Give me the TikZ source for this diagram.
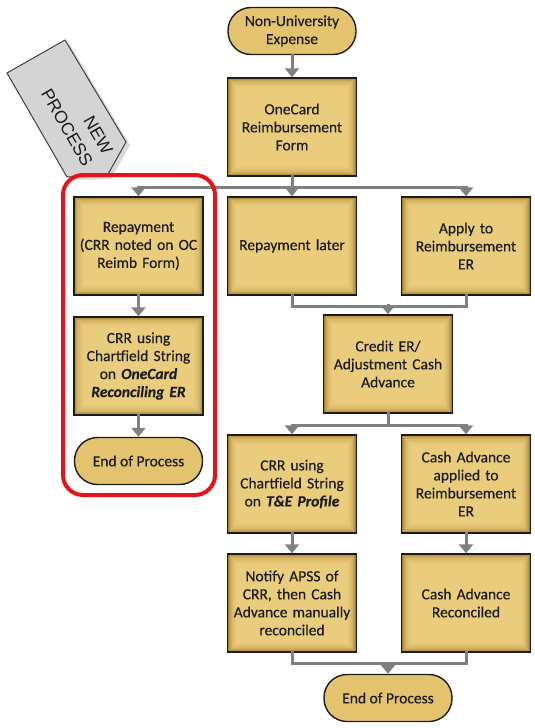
\documentclass[tikz,border=0pt]{standalone}
\usepackage{fontspec}
\setmainfont{Carlito}[FakeBold=0.4]
\newfontfamily\tagfont{Liberation Sans}
\usetikzlibrary{arrows.meta}
\definecolor{goldlight}{HTML}{F1D483}
\definecolor{golddark}{HTML}{A4812D}
\definecolor{goldflat}{HTML}{E4C36E}
\definecolor{flowgray}{HTML}{808080}
\definecolor{framered}{HTML}{E5141B}
\definecolor{taggray}{HTML}{D4D4D4}
\definecolor{inkdark}{HTML}{1C1C1C}

\begin{document}
\begin{tikzpicture}[x=1pt, y=-1pt,
    procbox/.style={draw=inkdark, line width=1.4pt, fill=golddark,
      minimum width=129pt, minimum height=98pt, inner sep=0pt,
      text width=126pt, align=center, text=inkdark,
      font=\fontsize{15.5}{18}\selectfont,
      path picture={
        \foreach \k in {1,...,9}
          \fill[goldlight, opacity=0.25]
            ([shift={(\k*1.1pt,\k*1.1pt)}]path picture bounding box.south west) rectangle
            ([shift={(-\k*1.1pt,-\k*1.1pt)}]path picture bounding box.north east);
      }},
    termbox/.style={draw=inkdark, line width=1.4pt, fill=goldflat,
      rounded corners=23pt, minimum width=128pt, minimum height=47pt,
      inner sep=0pt, align=center, text=inkdark,
      font=\fontsize{15.5}{18}\selectfont},
    flow/.style={draw=flowgray, line width=3pt, line cap=rect,
      -{Triangle[width=14pt,length=9pt]}},
    link/.style={draw=flowgray, line width=3pt, line cap=rect},
    tagtext/.style={rotate=-60, align=right, text=inkdark,
      font=\tagfont\fontsize{17.5}{23}\selectfont}
  ]
  \useasboundingbox (0,0) rectangle (535,728);

  % new process tag
  \fill[black!15] (11,76) -- (69,43) -- (130,145) -- (111,179) -- (71,180) -- cycle;
  \draw[draw=black!75, line width=1pt, fill=taggray]
    (7,73) -- (65,40) -- (126,142) -- (107,176) -- (67,177) -- cycle;
  \node[tagtext] (newproc) at (77,122) {NEW\\PROCESS};

  % steps
  \node[termbox] (start) at (292,31) {Non-University\\Expense};
  \node[procbox] (form) at (292,127) {OneCard\\Reimbursement\\Form};
  \node[procbox] (repnote) at (138.5,246) {Repayment\\(CRR noted on OC\\Reimb Form)};
  \node[procbox] (replater) at (292,246) {Repayment later};
  \node[procbox] (apply) at (466,246) {Apply to\\Reimbursement\\ER};
  \node[procbox] (crrone) at (138.5,366) {CRR using\\Chartfield String\\on \textbf{\itshape OneCard}\\\textbf{\itshape Reconciling ER}};
  \node[termbox] (endleft) at (138.5,461) {End of Process};
  \node[procbox] (credit) at (388,364) {Credit ER/\\Adjustment Cash\\Advance};
  \node[procbox] (crrte) at (292,484) {CRR using\\Chartfield String\\on \textbf{\itshape T\&E Profile}};
  \node[procbox] (caapply) at (466,484) {Cash Advance\\applied to\\Reimbursement\\ER};
  \node[procbox] (notify) at (292,603) {Notify APSS of\\CRR, then Cash\\Advance manually\\reconciled};
  \node[procbox] (carec) at (466,603) {Cash Advance\\Reconciled};
  \node[termbox] (endmain) at (388,698) {End of Process};

  \coordinate (split1) at (292,187);
  \coordinate (merge1) at (388,306);
  \coordinate (split2) at (388,425);
  \coordinate (merge2) at (388,663);

  % connectors
  \draw[flow] (start) -- (form);
  \draw[flow] (form) -- (replater);
  \draw[flow] (split1) -| (repnote);
  \draw[flow] (split1) -| (apply);
  \draw[flow] (repnote) -- (crrone);
  \draw[flow] (crrone) -- (endleft);
  \draw[link] (replater) |- (merge1);
  \draw[link] (apply) |- (merge1);
  \draw[flow] (merge1) -- (credit);
  \draw[link] (credit) -- (split2);
  \draw[flow] (split2) -| (crrte);
  \draw[flow] (split2) -| (caapply);
  \draw[flow] (crrte) -- (notify);
  \draw[flow] (caapply) -- (carec);
  \draw[link] (notify) |- (merge2);
  \draw[link] (carec) |- (merge2);
  \draw[flow] (merge2) -- (endmain);

  % new process frame
  \draw[draw=framered, line width=4pt, rounded corners=20pt] (63,175) rectangle (215,495);
\end{tikzpicture}
\end{document}
